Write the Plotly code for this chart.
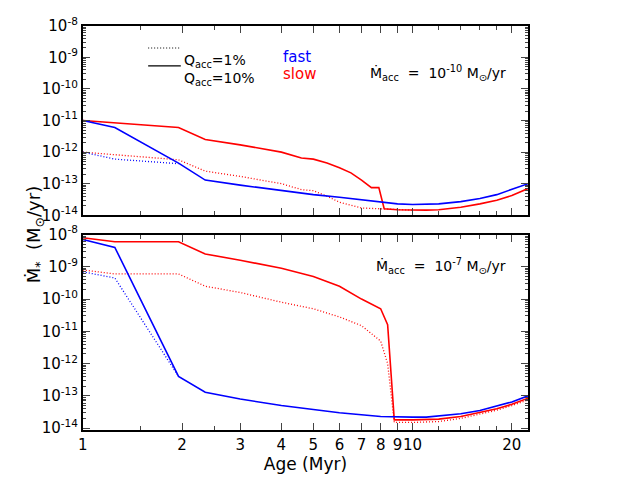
import plotly.graph_objects as go

# top panel: Macc = 1e-10
t_blue_solid_x = [1, 1.25, 1.95, 2.35, 3, 4, 5, 6, 7, 8, 9, 10, 11, 12, 14, 16, 18, 20, 22.4]
t_blue_solid_y = [1e-11, 6e-12, 4.5e-13, 1.3e-13, 9e-14, 6e-14, 4.5e-14, 3.7e-14, 3.1e-14, 2.6e-14, 2.3e-14, 2.2e-14, 2.2e-14, 2.3e-14, 2.7e-14, 3.4e-14, 4.5e-14, 6.5e-14, 1e-13]
t_blue_dot_x = [1, 1.25, 1.95]
t_blue_dot_y = [1e-12, 6e-13, 4.3e-13]
t_red_solid_x = [1, 1.95, 2.35, 3, 4, 4.6, 5.0, 5.5, 6, 6.5, 7, 7.5, 7.9, 8.2, 9, 10, 11, 12, 14, 16, 18, 20, 22.4]
t_red_solid_y = [1e-11, 6e-12, 2.5e-12, 1.7e-12, 1e-12, 6.5e-13, 6e-13, 4.5e-13, 3.2e-13, 2.2e-13, 1.3e-13, 7.5e-14, 7.5e-14, 1.6e-14, 1.5e-14, 1.45e-14, 1.45e-14, 1.5e-14, 1.8e-14, 2.3e-14, 3e-14, 4.2e-14, 7e-14]
t_red_dot_x = [1, 1.95, 2.35, 3, 4, 4.6, 5.0, 5.5, 6, 7, 8, 9, 10]
t_red_dot_y = [1e-12, 5.7e-13, 2.5e-13, 1.7e-13, 1e-13, 6.5e-14, 6e-14, 4e-14, 2.6e-14, 1.7e-14, 1.6e-14, 1.5e-14, 1.45e-14]

# bottom panel: Macc = 1e-7
b_blue_solid_x = [1, 1.25, 1.95, 2.35, 3, 4, 5, 6, 8, 9, 10, 11, 12, 14, 16, 18, 20, 22.4]
b_blue_solid_y = [7e-9, 4e-9, 4e-13, 1.3e-13, 8e-14, 5e-14, 3.8e-14, 3e-14, 2.3e-14, 2.2e-14, 2.2e-14, 2.2e-14, 2.4e-14, 2.8e-14, 3.5e-14, 4.8e-14, 6.5e-14, 1e-13]
b_blue_dot_x = [1, 1.25, 1.95]
b_blue_dot_y = [7e-10, 4.5e-10, 4e-13]
b_red_solid_x = [1, 1.25, 1.95, 2.35, 3, 4, 5, 6, 7, 8, 8.4, 8.8, 10, 12, 14, 16, 18, 20, 22.4]
b_red_solid_y = [8e-9, 6e-9, 6e-9, 2.5e-9, 1.6e-9, 9e-10, 5e-10, 2.5e-10, 1e-10, 5e-11, 1.6e-11, 1.8e-14, 1.8e-14, 1.9e-14, 2.3e-14, 3e-14, 4e-14, 5.5e-14, 8.5e-14]
b_red_dot_x = [1, 1.25, 1.95, 2.35, 3, 4, 5, 6, 7, 8, 8.4, 8.8, 10, 12, 14, 16, 18, 20, 22.4]
b_red_dot_y = [8e-10, 6e-10, 6e-10, 2.5e-10, 1.6e-10, 8e-11, 5e-11, 2.8e-11, 1.5e-11, 5e-12, 1e-12, 1.5e-14, 1.5e-14, 1.6e-14, 2e-14, 2.7e-14, 3.6e-14, 5e-14, 7.5e-14]

x_ticks = [1, 2, 3, 4, 5, 6, 7, 8, 9, 10, 20]
x_minor = [1.5, 2.5, 12, 14, 16, 18]
y_ticks = [1e-14, 1e-13, 1e-12, 1e-11, 1e-10, 1e-9, 1e-8]
y_labels = ["10<sup>%d</sup>" % e for e in range(-14, -7)]
y_minor = [m * 10.0 ** e for e in range(-14, -8) for m in range(2, 10)]

BLUE = "#0000ff"
RED = "#ff0000"

fig = go.Figure()

def add(x, y, color, dash, axis):
    w = 1.6 if dash == "solid" else 1.3
    d = dash if dash == "solid" else "1px,2px"
    fig.add_trace(go.Scatter(x=x, y=y, mode="lines", xaxis="x" + axis, yaxis="y" + axis,
                             line=dict(color=color, width=w, dash=d), showlegend=False))

add(t_red_dot_x, t_red_dot_y, RED, "dot", "")
add(t_blue_dot_x, t_blue_dot_y, BLUE, "dot", "")
add(t_red_solid_x, t_red_solid_y, RED, "solid", "")
add(t_blue_solid_x, t_blue_solid_y, BLUE, "solid", "")
add(b_red_dot_x, b_red_dot_y, RED, "dot", "2")
add(b_blue_dot_x, b_blue_dot_y, BLUE, "dot", "2")
add(b_red_solid_x, b_red_solid_y, RED, "solid", "2")
add(b_blue_solid_x, b_blue_solid_y, BLUE, "solid", "2")

font = dict(family="DejaVu Sans", size=15, color="black")
xax = dict(type="log", range=[0, 1.35], domain=[0.117, 0.8125], tickmode="array", tickvals=x_ticks,
           ticktext=[str(v) for v in x_ticks], tickangle=0, automargin=False,
           ticks="inside", ticklen=7, mirror="allticks", showline=True, linecolor="black",
           linewidth=2, showgrid=False, zeroline=False, tickfont=font,
           minor=dict(ticks="inside", ticklen=4, tickmode="array", tickvals=x_minor))
yax = dict(type="log", tickmode="array", tickvals=y_ticks, ticktext=y_labels, ticks="inside", ticklen=7,
           mirror="allticks", showline=True, linecolor="black", linewidth=2, showgrid=False,
           zeroline=False, tickfont=font, automargin=False,
           minor=dict(ticks="inside", ticklen=3, tickmode="array", tickvals=y_minor))

fig.update_layout(
    width=640, height=482, margin=dict(l=0, r=0, t=0, b=0),
    paper_bgcolor="white", plot_bgcolor="white", font=font,
    xaxis=dict(xax, anchor="y", showticklabels=False),
    yaxis=dict(yax, range=[-14, -8], domain=[0.57, 0.963], anchor="x"),
    xaxis2=dict(xax, anchor="y2", title=dict(text="Age (Myr)", font=dict(size=17), standoff=0)),
    yaxis2=dict(yax, range=[-14.05, -8], domain=[0.125, 0.53], anchor="x2"),
    shapes=[
        dict(type="line", xref="paper", yref="paper", x0=0.219, x1=0.27, y0=0.917, y1=0.917,
             line=dict(color="black", width=1, dash="1px,2px")),
        dict(type="line", xref="paper", yref="paper", x0=0.219, x1=0.27, y0=0.880, y1=0.880,
             line=dict(color="black", width=1.3)),
    ],
    annotations=[
        dict(text="Ṁ<sub>*</sub>  (M<sub>⊙</sub>/yr)", x=0.02, y=0.53, xref="paper", yref="paper",
             textangle=-90, showarrow=False, font=dict(size=18)),
        dict(text="Q<sub>acc</sub>=1%", x=0.272, y=0.913, xref="paper", yref="paper",
             xanchor="left", showarrow=False, font=dict(size=14)),
        dict(text="Q<sub>acc</sub>=10%", x=0.272, y=0.876, xref="paper", yref="paper",
             xanchor="left", showarrow=False, font=dict(size=14)),
        dict(text="fast", x=0.427, y=0.921, xref="paper", yref="paper", xanchor="left",
             showarrow=False, font=dict(size=15, color=BLUE)),
        dict(text="slow", x=0.427, y=0.886, xref="paper", yref="paper", xanchor="left",
             showarrow=False, font=dict(size=15, color=RED)),
        dict(text="Ṁ<sub>acc</sub>  =  10<sup>-10</sup> M<sub>⊙</sub>/yr", x=0.781, y=0.89,
             xref="paper", yref="paper", xanchor="right", showarrow=False, font=dict(size=14)),
        dict(text="Ṁ<sub>acc</sub>  =  10<sup>-7</sup> M<sub>⊙</sub>/yr", x=0.781, y=0.465,
             xref="paper", yref="paper", xanchor="right", showarrow=False, font=dict(size=14)),
    ],
)

fig.write_html("out.html")
